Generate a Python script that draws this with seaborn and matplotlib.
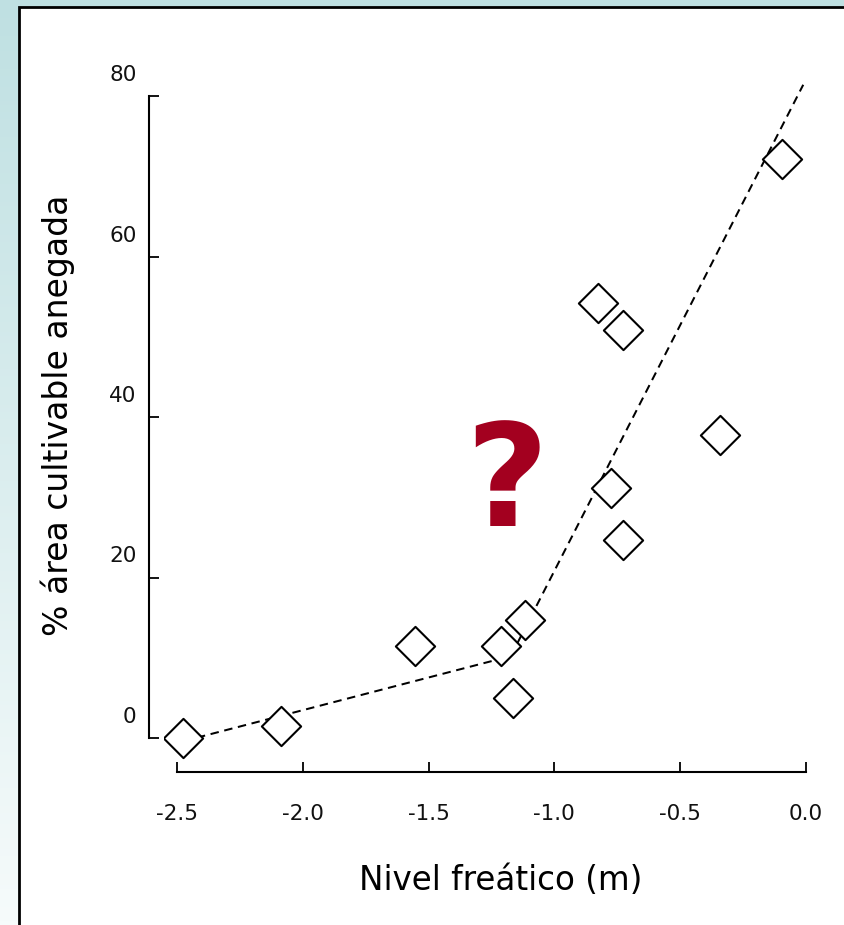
import numpy as np
import pandas as pd
import matplotlib
matplotlib.use("Agg")
import matplotlib.pyplot as plt
import seaborn as sns
from matplotlib.transforms import ScaledTranslation
from matplotlib.patches import Rectangle

# ---- data ----
nivel = [-2.475, -2.088, -1.554, -1.212, -1.166, -1.117, -0.827, -0.727, -0.775, -0.727, -0.342, -0.096]
area = [0.0, 1.5, 11.5, 11.5, 5.0, 14.7, 54.2, 50.9, 31.2, 24.7, 37.8, 72.2]
ajuste_x = [-2.475, -1.173, -0.01]
ajuste_y = [-0.4, 10.2, 81.4]
xticks = [-2.5, -2.0, -1.5, -1.0, -0.5, 0.0]
yticks = [0, 20, 40, 60, 80]
xlabel = "Nivel freático (m)"
ylabel = "% área cultivable anegada"

sns.set_style("ticks")
plt.rcParams["font.family"] = ["DejaVu Sans"]

W, H = 845, 925
fig = plt.figure(figsize=(W / 100, H / 100), dpi=100)

# background gradient + white framed panel
bg = fig.add_axes([0, 0, 1, 1], zorder=-10)
top = np.array([191, 224, 226]) / 255
bot = np.array([246, 251, 251]) / 255
t = np.linspace(0, 1, 256)[:, None]
grad = top[None, None, :] * (1 - t[:, :, None]) + bot[None, None, :] * t[:, :, None]
grad = np.repeat(grad, 2, axis=1)
bg.imshow(grad, aspect="auto", extent=[0, 1, 0, 1], origin="upper")
bg.set_xlim(0, 1)
bg.set_ylim(0, 1)
bg.axis("off")
bg.add_patch(Rectangle((18.5 / W, -0.05), 1.2, (H - 7) / H + 0.05, facecolor="white",
                       edgecolor="black", linewidth=2.0, transform=bg.transAxes))

# main axes: pixel geometry
xmin, xmax = -2.55, 0.05
ymin, ymax = -3.0, 82.0
ppx = 251.5  # px per x unit
ppy = 8.025  # px per y unit
x0px = 177 + (xmin + 2.5) * ppx
x1px = 177 + (xmax + 2.5) * ppx
y0px = 738 - ymin * ppy
y1px = 738 - ymax * ppy
ax = fig.add_axes([x0px / W, (H - y0px) / H, (x1px - x0px) / W, (y0px - y1px) / H])
ax.set_facecolor("none")

df = pd.DataFrame({"nivel": nivel, "area": area})
fit = pd.DataFrame({"x": ajuste_x, "y": ajuste_y})

sns.lineplot(data=fit, x="x", y="y", ax=ax, color="black", linewidth=1.45,
             dashes=False, linestyle=(0, (4.2, 2.8)), zorder=2)
sns.scatterplot(data=df, x="nivel", y="area", ax=ax, marker="D", s=400,
                facecolor="white", edgecolor="black", linewidth=1.5, zorder=3)

ax.set_xlim(xmin, xmax)
ax.set_ylim(ymin, ymax)
ax.set_xticks(xticks)
ax.set_xticklabels([f"{v:.1f}" for v in xticks])
ax.set_yticks(yticks)
ax.set_yticklabels([str(v) for v in yticks])

for s in ["top", "right"]:
    ax.spines[s].set_visible(False)
ax.spines["left"].set_position(("outward", (x0px - 149) * 0.72))
ax.spines["bottom"].set_position(("outward", (772 - y0px) * 0.72))
ax.spines["left"].set_bounds(0, 80)
ax.spines["bottom"].set_bounds(-2.5, 0)
for s in ["left", "bottom"]:
    ax.spines[s].set_linewidth(1.5)
    ax.spines[s].set_color("black")

ax.tick_params(axis="both", direction="in", length=7, width=1.3, colors="black",
               labelsize=15.5, labelcolor="#111111")
ax.tick_params(axis="x", pad=23)
ax.tick_params(axis="y", pad=9)

off = ScaledTranslation(0, 0.23, fig.dpi_scale_trans)
for lab in ax.get_yticklabels():
    lab.set_transform(lab.get_transform() + off)

ax.set_xlabel("")
ax.set_ylabel("")
fig.text(501 / W, 1 - 880 / H, xlabel, fontsize=23.5, ha="center", va="center", color="black")
fig.text(58 / W, 1 - 415 / H, ylabel, fontsize=23.8, ha="center", va="center",
         rotation=90, color="black")

fig.text(507 / W, 1 - 486 / H, "?", fontsize=103, fontweight="bold", color="#a3001f",
         ha="center", va="center")

fig.savefig("out.png", dpi=100)
